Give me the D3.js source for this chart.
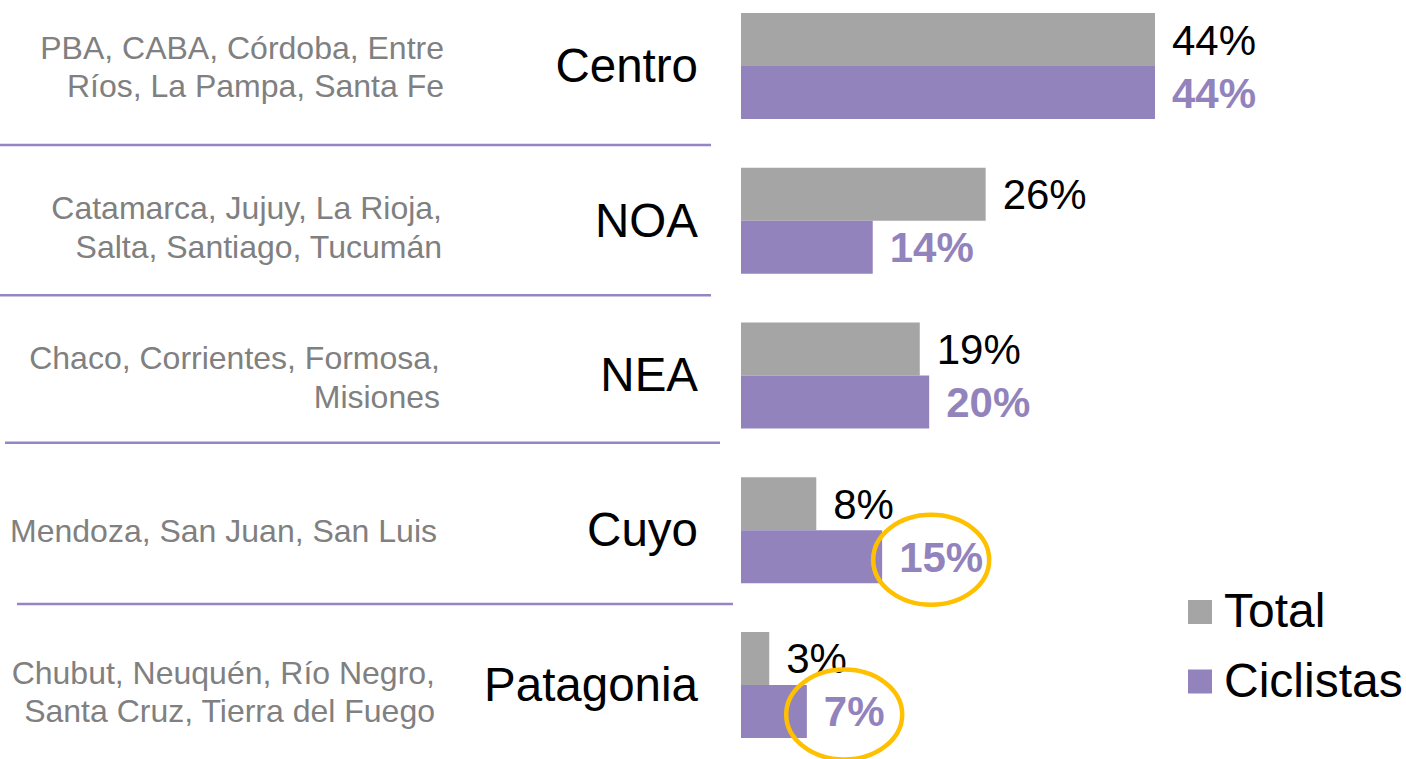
<!DOCTYPE html>
<html>
<head>
<meta charset="utf-8">
<script src="https://cdn.jsdelivr.net/npm/d3@7"></script>
<style>
  html, body { margin: 0; padding: 0; background: #ffffff; }
  svg { display: block; }
  text { font-family: "Liberation Sans", Arial, Helvetica, sans-serif; }
</style>
</head>
<body>
<svg id="chart" width="1406" height="759"></svg>
<script>
// Regional distribution: all respondents vs. cyclists (%)
const regions = ["Centro", "NOA", "NEA", "Cuyo", "Patagonia"];
const provinces = [
  ["PBA, CABA, Córdoba, Entre", "Ríos, La Pampa, Santa Fe"],
  ["Catamarca, Jujuy, La Rioja,", "Salta, Santiago, Tucumán"],
  ["Chaco, Corrientes, Formosa,", "Misiones"],
  ["Mendoza, San Juan, San Luis"],
  ["Chubut, Neuquén, Río Negro,", "Santa Cruz, Tierra del Fuego"]
];
const seriesNames = ["Total", "Ciclistas"];
const totalValues = [44, 26, 19, 8, 3];
const ciclistasValues = [44, 14, 20, 15, 7];
const highlighted = ["Cuyo", "Patagonia"];   // cyclist shares circled

// Layout
const colors = { Total: "#a5a5a5", Ciclistas: "#9383bd" };
const labelColors = { Total: "#000000", Ciclistas: "#9383bd" };
const descRight = [444, 442, 440, 437, 435];
const descNudge = [0, 6, 1, 0, 6];
const separators = [
  { x0: 0, x1: 711, dy: 1.5 },
  { x0: 0, x1: 711, dy: -3 },
  { x0: 5, x1: 720, dy: -10 },
  { x0: 17, x1: 733, dy: -3.5 }
];

const svg = d3.select("#chart");

const x = d3.scaleLinear().domain([0, 44]).range([741, 1155]);
const y = d3.scaleBand().domain(regions).range([13, 738]).paddingInner(0.315).paddingOuter(0);
const ySub = d3.scaleBand().domain(seriesNames).range([0, y.bandwidth()]);
const gapHalf = (y.step() - y.bandwidth()) / 2;

const rows = regions.map((r, i) => ({
  region: r,
  provinces: provinces[i],
  i,
  values: [
    { key: "Total", value: totalValues[i] },
    { key: "Ciclistas", value: ciclistasValues[i] }
  ]
}));

// Separators between regions
svg.append("g").selectAll("line")
  .data(separators)
  .join("line")
  .attr("x1", d => d.x0)
  .attr("x2", d => d.x1)
  .attr("y1", (d, i) => y(regions[i]) + y.bandwidth() + gapHalf + d.dy)
  .attr("y2", (d, i) => y(regions[i]) + y.bandwidth() + gapHalf + d.dy)
  .attr("stroke", "#9585c2")
  .attr("stroke-width", 2.5);

const groups = svg.append("g").selectAll("g.region")
  .data(rows)
  .join("g")
  .attr("class", "region")
  .attr("transform", d => `translate(0,${y(d.region)})`);

const mid = y.bandwidth() / 2;

// Region names
groups.append("text")
  .attr("x", 698)
  .attr("y", mid + 16)
  .attr("text-anchor", "end")
  .attr("font-size", 47.5)
  .attr("fill", "#000")
  .text(d => d.region);

// Province lists
groups.append("text")
  .attr("text-anchor", "end")
  .attr("font-size", 32)
  .attr("fill", "#808080")
  .each(function (d) {
    const n = d.provinces.length;
    const first = mid - (n - 1) * 38.5 / 2 + 12 + descNudge[d.i];
    d3.select(this).selectAll("tspan")
      .data(d.provinces)
      .join("tspan")
      .attr("x", descRight[d.i])
      .attr("y", (t, k) => first + k * 38.5)
      .text(t => t);
  });

// Bars
groups.selectAll("rect")
  .data(d => d.values)
  .join("rect")
  .attr("x", x(0))
  .attr("y", d => ySub(d.key))
  .attr("width", d => x(d.value) - x(0))
  .attr("height", ySub.bandwidth())
  .attr("fill", d => colors[d.key]);

// Value labels
groups.selectAll("text.val")
  .data(d => d.values.map(v => ({ ...v, region: d.region })))
  .join("text")
  .attr("class", "val")
  .attr("x", d => x(d.value) + 17)
  .attr("y", d => ySub(d.key) + ySub.bandwidth() / 2 + 15)
  .attr("font-size", 42)
  .attr("font-weight", d => d.key === "Ciclistas" ? "bold" : "normal")
  .attr("fill", d => labelColors[d.key])
  .text(d => d.value + "%");

// Highlight circles around cyclist shares
groups.filter(d => highlighted.includes(d.region))
  .each(function () {
    const g = d3.select(this);
    const lbl = g.selectAll("text.val").filter(v => v.key === "Ciclistas");
    const node = lbl.node();
    const bx = +lbl.attr("x") + node.getComputedTextLength() / 2 - 10;
    const by = ySub("Ciclistas") + ySub.bandwidth() / 2 + 3;
    g.append("ellipse")
      .attr("cx", bx)
      .attr("cy", by)
      .attr("rx", 58)
      .attr("ry", 45)
      .attr("fill", "none")
      .attr("stroke", "#ffc000")
      .attr("stroke-width", 4.5);
  });

// Legend
const legend = svg.append("g").attr("transform", "translate(1188,600)");
const li = legend.selectAll("g")
  .data(seriesNames)
  .join("g")
  .attr("transform", (d, i) => `translate(0,${i * 69.5})`);
li.append("rect")
  .attr("width", 24)
  .attr("height", 24)
  .attr("fill", d => colors[d]);
li.append("text")
  .attr("x", 36)
  .attr("y", 27)
  .attr("font-size", 48)
  .attr("fill", "#000")
  .text(d => d);
</script>
</body>
</html>
